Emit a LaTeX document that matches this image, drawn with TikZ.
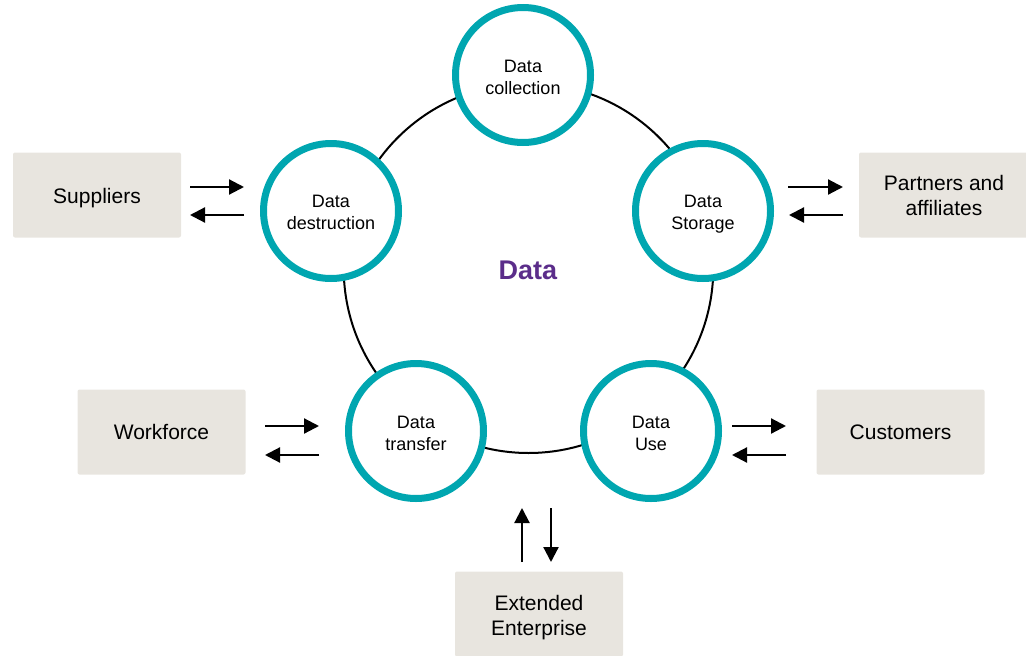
\documentclass[tikz,border=0pt]{standalone}
\usepackage{fontspec}
\setmainfont{Liberation Sans}
\usetikzlibrary{arrows.meta}
\definecolor{teal}{RGB}{0,166,176}
\definecolor{boxfill}{RGB}{232,229,223}
\definecolor{purp}{RGB}{91,45,138}
\newcommand\lowtext[2]{\raisebox{-#1}[\height][\depth]{#2}}
\tikzset{
  stage/.style={circle, draw=teal, line width=7pt, fill=white, minimum size=135pt, inner sep=0pt, align=center, font=\fontsize{18}{22}\selectfont},
  party/.style={rectangle, rounded corners=2pt, fill=boxfill, minimum width=168pt, minimum height=85pt, align=center, font=\fontsize{21}{25.5}\selectfont},
  flow/.style={line width=2.2pt, -{Triangle[length=15pt,width=15pt]}},
  ring/.style={line width=2pt, black}
}
\begin{document}
\begin{tikzpicture}[x=1pt,y=-1pt]
\useasboundingbox (0,0) rectangle (1026,656);
\draw[ring] (528.5,268.2) circle[radius=184.8];
\node[stage] (coll) at (523,75) {\lowtext{4pt}{\begin{tabular}{@{}c@{}}Data\\collection\end{tabular}}};
\node[stage] (dest) at (331,211) {\lowtext{3.5pt}{\begin{tabular}{@{}c@{}}Data\\destruction\end{tabular}}};
\node[stage] (stor) at (703,211) {\lowtext{3pt}{\begin{tabular}{@{}c@{}}Data\\Storage\end{tabular}}};
\node[stage] (tran) at (416,431) {\lowtext{4pt}{\begin{tabular}{@{}c@{}}Data\\transfer\end{tabular}}};
\node[stage] (use) at (651,431) {\lowtext{4pt}{\begin{tabular}{@{}c@{}}Data\\Use\end{tabular}}};
\node[font=\fontsize{27}{30}\selectfont\bfseries, text=purp] (data) at (528,270) {Data};

\node[party] (sup) at (97,195) {\lowtext{3pt}{Suppliers}};
\node[party, minimum width=170pt] (part) at (944,195) {\lowtext{3pt}{\begin{tabular}{@{}c@{}}Partners and\\affiliates\end{tabular}}};
\node[party] (work) at (161.5,432) {Workforce};
\node[party] (cust) at (900.5,432) {Customers};
\node[party] (ext) at (539,614) {\lowtext{4pt}{\begin{tabular}{@{}c@{}}Extended\\Enterprise\end{tabular}}};

% arrow end coordinates
\coordinate (s1) at (190,187); \coordinate (s2) at (244,187);
\coordinate (s3) at (244,215); \coordinate (s4) at (190,215);
\coordinate (p1) at (788,187); \coordinate (p2) at (843,187);
\coordinate (p3) at (843,215); \coordinate (p4) at (789,215);
\coordinate (w1) at (265,426); \coordinate (w2) at (319,426);
\coordinate (w3) at (319,455); \coordinate (w4) at (265,455);
\coordinate (c1) at (732,426); \coordinate (c2) at (786,426);
\coordinate (c3) at (786,455); \coordinate (c4) at (732,455);
\coordinate (e1) at (522,562); \coordinate (e2) at (522,508);
\coordinate (e3) at (551,508); \coordinate (e4) at (551,562);

\draw[flow] (s1) -- (s2);
\draw[flow] (s3) -- (s4);
\draw[flow] (p1) -- (p2);
\draw[flow] (p3) -- (p4);
\draw[flow] (w1) -- (w2);
\draw[flow] (w3) -- (w4);
\draw[flow] (c1) -- (c2);
\draw[flow] (c3) -- (c4);
\draw[flow] (e1) -- (e2);
\draw[flow] (e3) -- (e4);
\end{tikzpicture}
\end{document}
